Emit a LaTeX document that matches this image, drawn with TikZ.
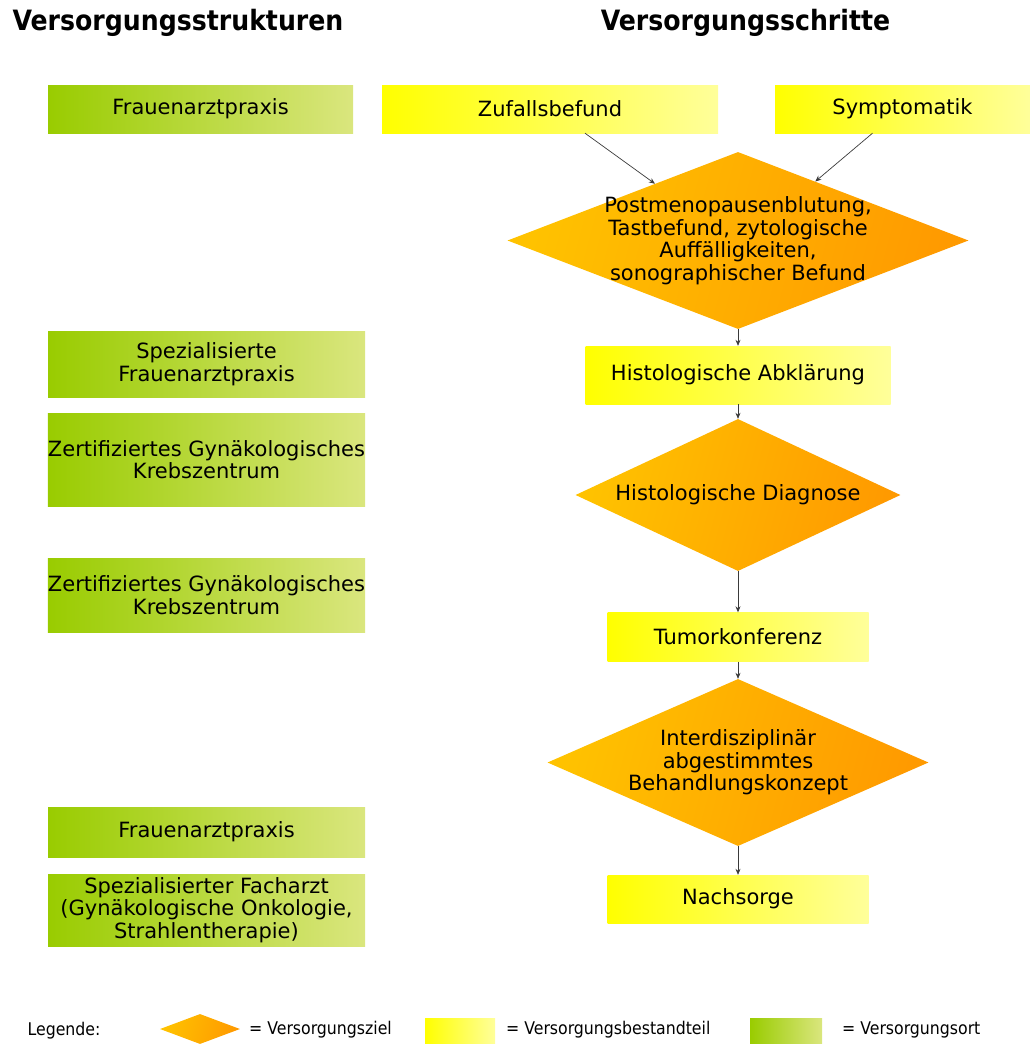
\documentclass[tikz,border=0pt]{standalone}
\usepackage{fontspec}
\usepackage{xcolor}
\usepackage{tikz}
\usetikzlibrary{shapes.geometric,arrows.meta,calc}
\setmainfont{DejaVu Sans}
\newfontfamily\schmalfont{DejaVu Sans Condensed}
\definecolor{ortlinks}{HTML}{99CC00}
\definecolor{ortrechts}{HTML}{DAE67E}
\definecolor{schrittlinks}{HTML}{FFFF00}
\definecolor{schrittrechts}{HTML}{FFFF9A}
\definecolor{ziellinks}{HTML}{FFC200}
\definecolor{zielrechts}{HTML}{FF9A00}
\definecolor{pfeilgrau}{HTML}{3A3A3A}

\tikzset{
  boxtext/.style={align=center,font=\fontsize{21}{22.5}\selectfont,inner sep=0pt},
  ort/.style={boxtext,shading=axis,left color=ortlinks,right color=ortrechts,minimum width=317pt},
  schritt/.style={boxtext,shading=axis,left color=schrittlinks,right color=schrittrechts},
  ziel/.style={diamond,inner sep=0pt,shading=axis,left color=ziellinks,right color=zielrechts,shading angle=75},
  kopf/.style={font=\schmalfont\bfseries\fontsize{28}{30}\selectfont,inner sep=0pt},
  legtext/.style={font=\schmalfont\fontsize{17.5}{20}\selectfont,inner sep=0pt,anchor=west},
  pfeil/.style={draw=pfeilgrau,line width=0.7pt,-{Stealth[length=6pt,width=5pt]}}
}

\begin{document}
\begin{tikzpicture}[x=1pt,y=-1pt]
  \useasboundingbox (0,0) rectangle (1030,1044);

  % Ueberschriften
  \node[kopf] (kopfl) at (178,23) {Versorgungsstrukturen};
  \node[kopf] (kopfr) at (745.5,23) {Versorgungsschritte};

  % Versorgungsorte
  \node[ort,minimum width=305pt,minimum height=48pt] (o1) at (200.5,109) {Frauenarztpraxis};
  \node[ort,minimum height=66pt] (o2) at (206.5,364) {Spezialisierte\\Frauenarztpraxis};
  \node[ort,minimum height=93pt] (o3) at (206.5,459.5) {Zertifiziertes Gynäkologisches\\Krebszentrum};
  \node[ort,minimum height=74pt] (o4) at (206.5,595) {Zertifiziertes Gynäkologisches\\Krebszentrum};
  \node[ort,minimum height=50pt] (o5) at (206.5,832) {Frauenarztpraxis};
  \node[ort,minimum height=72pt] (o6) at (206.5,910) {Spezialisierter Facharzt\\(Gynäkologische Onkologie,\\Strahlentherapie)};

  % Versorgungsschritte
  \node[schritt,minimum width=336pt,minimum height=48pt] (s1) at (550,109) {Zufallsbefund};
  \node[schritt,minimum width=255pt,minimum height=48pt] (s2) at (902.5,109) {Symptomatik};
  \node[ziel,minimum width=461pt,minimum height=177pt] (d1) at (738,240.5) {};
  \node[boxtext] (d1t) at (d1) {Postmenopausenblutung,\\Tastbefund, zytologische\\Auffälligkeiten,\\sonographischer Befund};
  \node[schritt,minimum width=305pt,minimum height=58pt] (s3) at (738,375) {Histologische Abklärung};
  \node[ziel,minimum width=325pt,minimum height=152pt] (d2) at (738,495) {};
  \node[boxtext] (d2t) at (d2) {Histologische Diagnose};
  \node[schritt,minimum width=261pt,minimum height=49pt] (s4) at (738,637) {Tumorkonferenz};
  \node[ziel,minimum width=381pt,minimum height=167pt] (d3) at (738,762.5) {};
  \node[boxtext] (d3t) at (d3) {Interdisziplinär\\abgestimmtes\\Behandlungskonzept};
  \node[schritt,minimum width=261pt,minimum height=48pt] (s5) at (738,899) {Nachsorge};

  % Pfeile
  \draw[pfeil] ([xshift=35pt]s1.south) -- ($(d1.west)!0.64!(d1.north)$);
  \draw[pfeil] ([xshift=-30pt]s2.south) -- ($(d1.east)!0.665!(d1.north)$);
  \draw[pfeil] (d1.south) -- (s3.north);
  \draw[pfeil] (s3.south) -- (d2.north);
  \draw[pfeil] (d2.south) -- (s4.north);
  \draw[pfeil] (s4.south) -- (d3.north);
  \draw[pfeil] (d3.south) -- (s5.north);

  % Legende
  \node[legtext,anchor=center] (leg) at (64,1031) {Legende:};
  \node[ziel,minimum width=80pt,minimum height=30pt] (legziel) at (200,1029) {};
  \node[legtext] (legzielt) at (249,1030) {= Versorgungsziel};
  \node[schritt,minimum width=70pt,minimum height=25pt] (legschritt) at (460,1030.5) {};
  \node[legtext] (legschrittt) at (506,1030) {= Versorgungsbestandteil};
  \node[ort,minimum width=72pt,minimum height=25pt] (legort) at (786,1030.5) {};
  \node[legtext] (legortt) at (842,1030) {= Versorgungsort};
\end{tikzpicture}
\end{document}
